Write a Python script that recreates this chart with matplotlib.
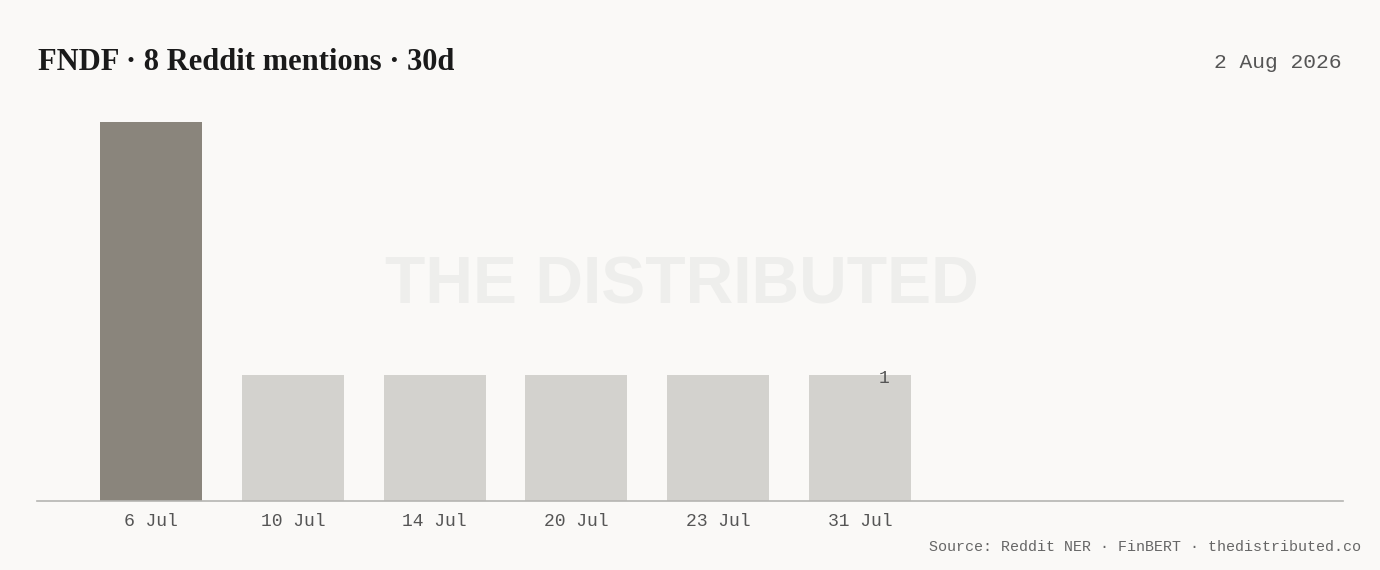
import numpy as np
import matplotlib.pyplot as plt

dates = ['6 Jul', '10 Jul', '14 Jul', '20 Jul', '23 Jul', '31 Jul']
mentions = [3, 1, 1, 1, 1, 1]
highlight = '6 Jul'

BG = '#faf9f7'
MONO = ['Liberation Mono', 'DejaVu Sans Mono']

fig = plt.figure(figsize=(13.8, 5.7), dpi=100, facecolor=BG)
ax = fig.add_axes([37 / 1380, 1 - 501 / 570, (1343 - 37) / 1380, (501 - 122) / 570])
ax.set_facecolor(BG)

# watermark behind everything
fig.text(0.494, 1 - 286 / 570, 'THE DISTRIBUTED', ha='center', va='center',
         fontsize=47.5, fontweight='bold', family=['Liberation Sans', 'DejaVu Sans'],
         color='#eeeeec', zorder=0)

x = np.arange(len(dates))
colors = ['#8a857c' if d == highlight else '#d3d2ce' for d in dates]
ax.bar(x, mentions, width=0.72, color=colors, zorder=2)

# value label on the last bar
ax.annotate(str(mentions[-1]), (x[-1] + 0.17, mentions[-1]), xytext=(0, -2.5),
            textcoords='offset points', ha='center', va='center',
            fontsize=13, family=MONO, color='#555555', zorder=3)

ax.set_xlim(-0.804, 8.406)
ax.set_ylim(0, max(mentions))
ax.set_xticks(x)
ax.set_xticklabels(dates, family=MONO, fontsize=13, color='#555555')
ax.tick_params(axis='x', length=0, pad=9)
ax.set_yticks([])
for s in ['top', 'right', 'left']:
    ax.spines[s].set_visible(False)
ax.spines['bottom'].set_color('#b5b5b2')
ax.spines['bottom'].set_linewidth(1.2)
ax.patch.set_alpha(0)

fig.text(38 / 1380, 1 - 62 / 570, 'FNDF · 8 Reddit mentions · 30d', ha='left', va='center',
         fontsize=22, fontweight='bold', family=['Liberation Serif', 'DejaVu Serif'],
         color='#1a1a1a')
fig.text(1341 / 1380, 1 - 63 / 570, '2 Aug 2026', ha='right', va='center',
         fontsize=15.3, family=MONO, color='#555555')
fig.text(1361 / 1380, 1 - 547 / 570, 'Source: Reddit NER · FinBERT · thedistributed.co',
         ha='right', va='center', fontsize=10.8, family=MONO, color='#666666')

fig.savefig('out.png', dpi=100, facecolor=BG)
